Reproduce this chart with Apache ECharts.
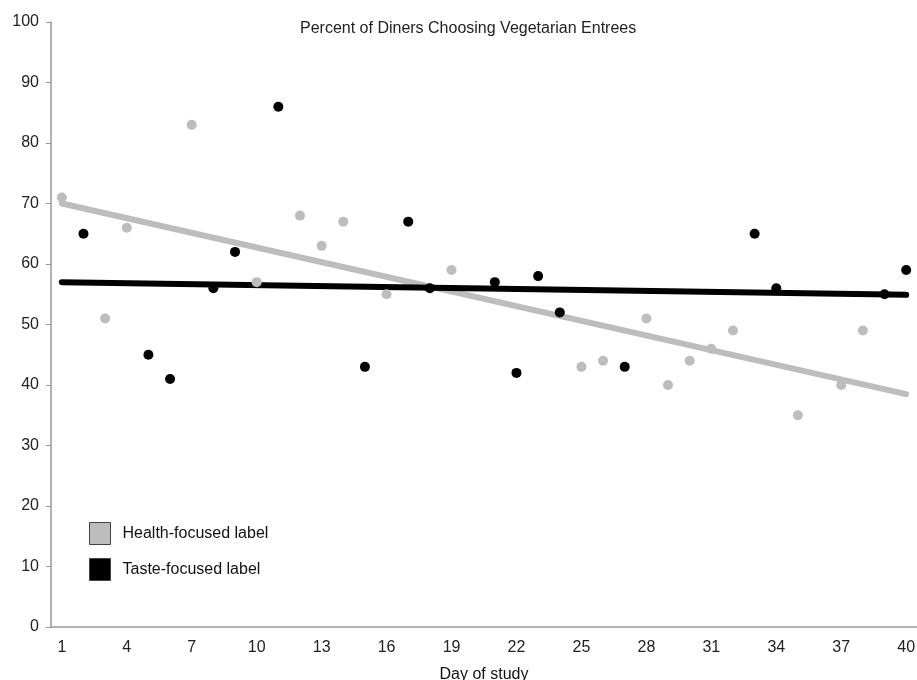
<!DOCTYPE html>
<html>
<head>
<meta charset="utf-8">
<script src="https://cdn.jsdelivr.net/npm/echarts@6/dist/echarts.min.js"></script>
<style>html,body{margin:0;padding:0;background:#fff}#c{width:917px;height:680px}</style>
</head>
<body>
<div id="c"></div>
<script>
var days = [];
for (var d = 1; d <= 40; d++) days.push(String(d));
var healthDays = [1, 3, 4, 7, 10, 12, 13, 14, 16, 19, 25, 26, 28, 29, 30, 31, 32, 35, 37, 38];
var healthValues = [71, 51, 66, 83, 57, 68, 63, 67, 55, 59, 43, 44, 51, 40, 44, 46, 49, 35, 40, 49];
var tasteDays = [2, 5, 6, 8, 9, 11, 15, 17, 18, 21, 22, 23, 24, 27, 33, 34, 39, 40];
var tasteValues = [65, 45, 41, 56, 62, 86, 43, 67, 56, 57, 42, 58, 52, 43, 65, 56, 55, 59];
var healthTrend = [[1, 70], [40, 38.5]];
var tasteTrend = [[1, 57], [40, 54.9]];

function pts(ds, vs) { return ds.map(function (d, i) { return [String(d), vs[i]]; }); }

var GRAY = '#bdbdbd';
var font = 'Liberation Sans, Arial, sans-serif';
var chart = echarts.init(document.getElementById('c'));
chart.setOption({
  animation: false,
  title: {
    text: 'Percent of Diners Choosing Vegetarian Entrees',
    left: 295, top: 16,
    textStyle: { fontFamily: font, fontSize: 16, fontWeight: 'normal', color: '#222' }
  },
  legend: {
    orient: 'vertical', left: 84, top: 517, itemWidth: 21, itemHeight: 22, itemGap: 13,
    icon: 'rect',
    data: [
      { name: 'Health-focused label', itemStyle: { color: GRAY, borderColor: '#444', borderWidth: 1 } },
      { name: 'Taste-focused label', itemStyle: { color: '#000', borderColor: '#444', borderWidth: 1 } }
    ],
    textStyle: { fontFamily: font, fontSize: 16, color: '#111', padding: [0, 0, 0, 7] }
  },
  grid: { left: 51, right: 0, top: 22, bottom: 53, outerBoundsMode: 'none', containLabel: false },
  xAxis: {
    type: 'category', data: days, boundaryGap: true,
    name: 'Day of study', nameLocation: 'middle', nameGap: 40,
    nameTextStyle: { fontFamily: font, fontSize: 16, color: '#111' },
    axisLine: { lineStyle: { color: '#999', width: 1.5 } },
    axisTick: { interval: 0, length: 5, lineStyle: { color: '#999' } },
    axisLabel: { interval: 2, margin: 13, fontFamily: font, fontSize: 16, color: '#222' },
    splitLine: { show: false }
  },
  yAxis: {
    type: 'value', min: 0, max: 100, interval: 10,
    axisLine: { show: true, lineStyle: { color: '#999', width: 1.5 } },
    axisTick: { show: true, length: 5, lineStyle: { color: '#999' } },
    axisLabel: { margin: 12, fontFamily: font, fontSize: 16, color: '#222' },
    splitLine: { show: false }
  },
  series: [
    { type: 'line', data: healthTrend.map(function (p) { return [String(p[0]), p[1]]; }), symbol: 'none',
      lineStyle: { color: GRAY, width: 6, cap: 'round' }, z: 1, silent: true },
    { type: 'line', data: tasteTrend.map(function (p) { return [String(p[0]), p[1]]; }), symbol: 'none',
      lineStyle: { color: '#000', width: 6, cap: 'round' }, z: 2, silent: true },
    { name: 'Health-focused label', type: 'scatter', data: pts(healthDays, healthValues), symbolSize: 10,
      itemStyle: { color: GRAY, opacity: 1 }, z: 3 },
    { name: 'Taste-focused label', type: 'scatter', data: pts(tasteDays, tasteValues), symbolSize: 10,
      itemStyle: { color: '#000', opacity: 1 }, z: 4 }
  ]
});
</script>
</body>
</html>
